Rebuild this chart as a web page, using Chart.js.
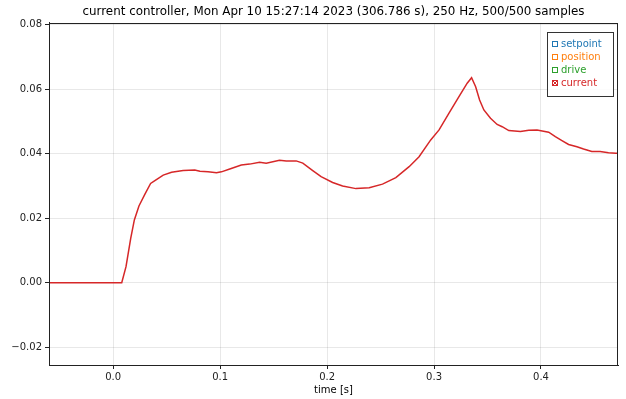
<!DOCTYPE html>
<html>
<head>
<meta charset="utf-8">
<script src="https://cdn.jsdelivr.net/npm/chart.js@4/dist/chart.umd.min.js"></script>
<style>
  html, body { margin: 0; padding: 0; background: #ffffff; }
  canvas { display: block; }
</style>
</head>
<body>
<canvas id="c" width="626" height="399"></canvas>
<script>
// Recorded controller trace: time [s] and measured current
const timeS = [
  -0.06, 0.0, 0.008, 0.012, 0.0164, 0.0198, 0.0241, 0.0297, 0.035, 0.039,
  0.0468, 0.0546, 0.0654, 0.0763, 0.0811, 0.0887, 0.0966, 0.1012, 0.109, 0.1198,
  0.1276, 0.1369, 0.1431, 0.1555, 0.1618, 0.1711, 0.1773, 0.1866, 0.1944, 0.2052,
  0.2145, 0.227, 0.2394, 0.2518, 0.2643, 0.2767, 0.286, 0.2969, 0.3047, 0.314,
  0.3233, 0.331, 0.3351, 0.3389, 0.3426, 0.3466, 0.3528, 0.359, 0.3637, 0.3699,
  0.3808, 0.3885, 0.3963, 0.4072, 0.4134, 0.4196, 0.4258, 0.4336, 0.4398, 0.4475,
  0.4553, 0.4631, 0.47, 0.475
];
const currentVals = [
  0, 0, 0, 0.005, 0.0138, 0.0195, 0.0238, 0.0275, 0.0308, 0.0317,
  0.0334, 0.0343, 0.0348, 0.035, 0.0346, 0.0344, 0.0341, 0.0344, 0.0353, 0.0365,
  0.0368, 0.0374, 0.0371, 0.038, 0.0378, 0.0378, 0.0371, 0.0348, 0.0329, 0.0311,
  0.0300, 0.0292, 0.0295, 0.0306, 0.0326, 0.036, 0.0391, 0.0443, 0.0474, 0.0526,
  0.0577, 0.0619, 0.0636, 0.0608, 0.0567, 0.0536, 0.051, 0.0491, 0.0484, 0.0472,
  0.0469, 0.0473, 0.0474, 0.0467, 0.0453, 0.0441, 0.0429, 0.0422, 0.0415, 0.0407,
  0.0407, 0.0403, 0.0402, 0.0401
];
// Signals listed in the legend (only the current trace carries samples)
const seriesNames = ['setpoint', 'position', 'drive', 'current'];
const seriesColors = ['#1f77b4', '#ff7f0e', '#2ca02c', '#d62728'];

const xTicks = [0.0, 0.1, 0.2, 0.3, 0.4];
const yTicks = [-0.02, 0.0, 0.02, 0.04, 0.06, 0.08];

const FONT = '"DejaVu Sans", "Liberation Sans", sans-serif';

const currentPoints = timeS.map((t, i) => ({ x: t, y: currentVals[i] }));

const datasets = seriesNames.map((name, i) => ({
  label: name,
  data: name === 'current' ? currentPoints : [],
  borderColor: seriesColors[i],
  backgroundColor: seriesColors[i],
  borderWidth: 1.5,
  pointRadius: 0,
  tension: 0,
  fill: false
}));

// Center the title over the plotting area rather than the whole canvas
const titleOverPlot = {
  id: 'titleOverPlot',
  afterLayout(chart) {
    const tb = chart.titleBlock;
    if (tb) {
      tb.left = chart.chartArea.left;
      tb.right = chart.chartArea.right;
    }
  }
};

// Closed box around the plotting area
const frame = {
  id: 'frame',
  afterDatasetsDraw(chart) {
    const { ctx, chartArea: a } = chart;
    ctx.save();
    ctx.strokeStyle = '#222';
    ctx.lineWidth = 1;
    ctx.strokeRect(Math.round(a.left) + 0.5, Math.round(a.top) + 0.5,
                   Math.round(a.right - a.left) - 1, Math.round(a.bottom - a.top));
    ctx.restore();
  }
};

// Boxed legend in the upper-right corner of the plot
const boxLegend = {
  id: 'boxLegend',
  afterDraw(chart) {
    const { ctx, chartArea: a } = chart;
    const ds = chart.data.datasets;
    const w = 66, rowH = 13;
    const h = 12 + rowH * ds.length;
    const x0 = Math.round(a.right - 5 - w), y0 = Math.round(a.top + 9);
    ctx.save();
    ctx.fillStyle = 'rgba(255,255,255,0.85)';
    ctx.fillRect(x0, y0, w, h);
    ctx.strokeStyle = '#333';
    ctx.lineWidth = 1;
    ctx.strokeRect(x0 + 0.5, y0 + 0.5, w, h);
    ctx.font = '10px ' + FONT;
    ctx.textBaseline = 'middle';
    ctx.textAlign = 'left';
    ds.forEach((d, i) => {
      const cy = y0 + 12 + i * rowH;
      const mx = x0 + 5;
      ctx.strokeStyle = d.borderColor;
      ctx.lineWidth = 1;
      ctx.strokeRect(mx + 0.5, cy - 3 + 0.5, 5, 5);
      if (d.data.length) {
        ctx.beginPath();
        ctx.moveTo(mx + 0.5, cy - 2.5);
        ctx.lineTo(mx + 5.5, cy + 2.5);
        ctx.moveTo(mx + 5.5, cy - 2.5);
        ctx.lineTo(mx + 0.5, cy + 2.5);
        ctx.stroke();
      }
      ctx.fillStyle = d.borderColor;
      ctx.fillText(d.label, x0 + 14, cy);
    });
    ctx.restore();
  }
};

const fmtMinus = s => s.replace('-', '\u2212');

new Chart(document.getElementById('c'), {
  type: 'line',
  data: { datasets },
  options: {
    responsive: false,
    animation: false,
    devicePixelRatio: 1,
    layout: { padding: { left: 0, right: 8, top: 0, bottom: 0 } },
    plugins: {
      legend: { display: false },
      tooltip: { enabled: false },
      title: {
        display: true,
        text: 'current controller, Mon Apr 10 15:27:14 2023 (306.786 s), 250 Hz, 500/500 samples',
        color: '#000',
        font: { family: FONT, size: 11.9, weight: 'normal', lineHeight: 1.2 },
        padding: { top: 5, bottom: 3.6 }
      }
    },
    scales: {
      x: {
        type: 'linear',
        min: -0.06,
        max: 0.472,
        afterBuildTicks: s => { s.ticks = xTicks.map(v => ({ value: v })); },
        afterFit: s => { s.height = 34; },
        ticks: {
          color: '#222',
          font: { family: FONT, size: 10 },
          padding: 2,
          maxRotation: 0,
          callback: v => v.toFixed(1)
        },
        grid: {
          color: 'rgba(0,0,0,0.09)',
          tickColor: '#222',
          tickLength: 4,
          lineWidth: 1
        },
        border: { color: '#222', width: 1 },
        title: {
          display: true,
          text: 'time [s]',
          color: '#000',
          font: { family: FONT, size: 10 },
          padding: { top: 0, bottom: 3 }
        }
      },
      y: {
        type: 'linear',
        min: -0.0255,
        max: 0.0806,
        afterBuildTicks: s => { s.ticks = yTicks.map(v => ({ value: v })); },
        afterFit: s => { s.width = 49; },
        ticks: {
          color: '#222',
          font: { family: FONT, size: 10 },
          padding: 3,
          callback: v => fmtMinus(v.toFixed(2))
        },
        grid: {
          color: 'rgba(0,0,0,0.09)',
          tickColor: '#222',
          tickLength: 4,
          lineWidth: 1
        },
        border: { color: '#222', width: 1 }
      }
    }
  },
  plugins: [titleOverPlot, frame, boxLegend]
});
</script>
</body>
</html>
